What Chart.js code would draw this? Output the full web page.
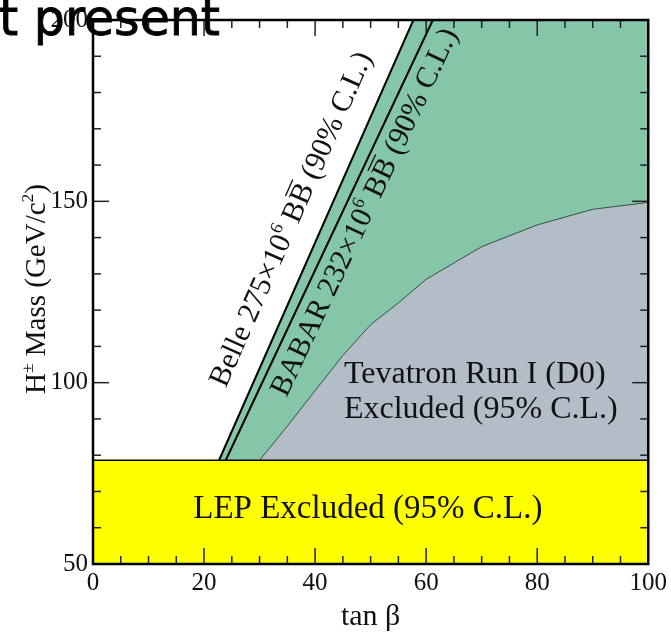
<!DOCTYPE html>
<html><head><meta charset="utf-8">
<script src="https://cdn.jsdelivr.net/npm/chart.js@4.4.1/dist/chart.umd.min.js"></script>
<style>html,body{margin:0;padding:0;background:#fff;overflow:hidden}</style>
</head><body>
<canvas id="c" width="671" height="635"></canvas>
<script>
// ---- data ----
const tanBetaTicks = [0, 20, 40, 60, 80, 100];
const massTicks = [50, 100, 150, 200];
const lepTanBeta = [0, 100];
const lepMass = [78.6, 78.6];
const tevatronTanBeta = [30, 35, 40, 45, 50, 55, 60, 70, 80, 90, 100];
const tevatronMass = [78.6, 88, 97.8, 107.5, 116, 122, 128.5, 137.5, 143.5, 147.8, 149.7];
const belleTanBeta = [22.7, 57.7];
const belleMass = [78.6, 200];
const babarTanBeta = [23.9, 61.2];
const babarMass = [78.6, 200];

// ---- text annotations ----
const titleText = 't present';
const lepLabel = 'LEP Excluded (95% C.L.)';
const tevLabel = ['Tevatron Run I (D0)', 'Excluded (95% C.L.)'];
const belleLabel = [{t:'Belle 275×10'},{t:'6',sup:true},{t:' B'},{t:'B',bar:true},{t:' (90% C.L.)'}];
const babarLabel = [{t:'BABAR 232×10'},{t:'6',sup:true},{t:' B'},{t:'B',bar:true},{t:' (90% C.L.)'}];
const yTitle = [{t:'H'},{t:'±',sup:true},{t:' Mass (GeV/c'},{t:'2',sup:true},{t:')'}];
const xTitle = 'tan β';

const pts = (xs, ys) => xs.map((v, i) => ({x: v, y: ys[i]}));
const X_MIN = 0, X_MAX = 100, Y_MIN = 50, Y_MAX = 200;

const SERIF = '"Liberation Serif", "Times New Roman", serif';
const GREEN = '#85c6a8';
const GRAY = '#b3bdc8';
const YELLOW = '#ffff00';

function drawRich(ctx, segs, size, cx, cy, angle) {
  ctx.save();
  ctx.translate(cx, cy);
  ctx.rotate(angle);
  let total = 0;
  const items = segs.map(s => {
    const f = s.sup ? size * 0.6 : size;
    ctx.font = f + 'px ' + SERIF;
    const w = ctx.measureText(s.t).width;
    total += w;
    return Object.assign({}, s, {f, w});
  });
  let xx = -total / 2;
  ctx.textBaseline = 'alphabetic';
  ctx.textAlign = 'left';
  ctx.fillStyle = '#111';
  for (const it of items) {
    ctx.font = it.f + 'px ' + SERIF;
    const yy = it.sup ? -size * 0.42 : 0;
    ctx.fillText(it.t, xx, yy);
    if (it.bar) ctx.fillRect(xx + 1, -size * 0.66 - 4, it.w - 2, 1.4);
    xx += it.w;
  }
  ctx.restore();
}

const decor = {
  id: 'decor',
  afterDatasetsDraw(chart) {
    const {ctx, chartArea: a, scales: {x, y}} = chart;
    ctx.save();
    // region labels
    ctx.fillStyle = '#111';
    ctx.textAlign = 'center';
    ctx.textBaseline = 'alphabetic';
    ctx.font = '33px ' + SERIF;
    ctx.fillText(lepLabel, x.getPixelForValue(49.5), y.getPixelForValue(62.8));
    ctx.font = '32px ' + SERIF;
    ctx.textAlign = 'left';
    ctx.fillText(tevLabel[0], x.getPixelForValue(45.2), y.getPixelForValue(99.8));
    ctx.fillText(tevLabel[1], x.getPixelForValue(45.2), y.getPixelForValue(90.3));
    // rotated labels along lines
    const ang = (xs, ys) => Math.atan2(y.getPixelForValue(ys[1]) - y.getPixelForValue(ys[0]),
                                       x.getPixelForValue(xs[1]) - x.getPixelForValue(xs[0]));
    drawRich(ctx, belleLabel, 30, x.getPixelForValue(37.1), y.getPixelForValue(144.1), ang(belleTanBeta, belleMass));
    drawRich(ctx, babarLabel, 30, x.getPixelForValue(50.3), y.getPixelForValue(146.0), ang(babarTanBeta, babarMass));

    // inward ticks on all four sides
    ctx.strokeStyle = '#222';
    ctx.lineWidth = 1.5;
    const seg = (x1, y1, x2, y2) => { ctx.beginPath(); ctx.moveTo(x1, y1); ctx.lineTo(x2, y2); ctx.stroke(); };
    for (let v = X_MIN; v <= X_MAX; v += 5) {
      const L = v % 20 === 0 ? 16 : 8;
      const p = x.getPixelForValue(v);
      seg(p, a.bottom, p, a.bottom - L);
      seg(p, a.top, p, a.top + L);
    }
    for (let v = Y_MIN; v <= Y_MAX; v += 10) {
      const L = v % 50 === 0 ? 16 : 8;
      const p = y.getPixelForValue(v);
      seg(a.left, p, a.left + L, p);
      seg(a.right, p, a.right - L, p);
    }
    ctx.strokeStyle = '#000';
    ctx.lineWidth = 2.5;
    ctx.strokeRect(a.left, a.top, a.width, a.height);
    ctx.restore();
  },
  afterDraw(chart) {
    const {ctx, chartArea: a} = chart;
    // y axis title with superscripts
    drawRich(ctx, yTitle, 29, 45, (a.top + a.bottom) / 2 - 3, -Math.PI / 2);
    // cut-off slide title
    ctx.save();
    ctx.fillStyle = '#000';
    ctx.strokeStyle = '#000';
    ctx.lineWidth = 0.8;
    ctx.font = '49px "DejaVu Sans", sans-serif';
    ctx.textAlign = 'left';
    ctx.textBaseline = 'alphabetic';
    ctx.fillText(titleText, -1, 35);
    ctx.strokeText(titleText, -1, 35);
    ctx.restore();
  }
};

new Chart(document.getElementById('c'), {
  type: 'line',
  data: {
    datasets: [
      { label: 'Belle', data: pts(belleTanBeta, belleMass).concat([{x: X_MAX, y: Y_MAX}]),
        borderColor: '#000', borderWidth: 2, backgroundColor: GREEN, fill: 'start', order: 3 },
      { label: 'Tevatron', data: pts(tevatronTanBeta, tevatronMass),
        borderColor: '#35503f', borderWidth: 1, backgroundColor: GRAY, fill: 'start', order: 2 },
      { label: 'LEP', data: pts(lepTanBeta, lepMass),
        borderColor: '#000', borderWidth: 1.5, backgroundColor: YELLOW, fill: 'start', order: 1 },
      { label: 'BABAR', data: pts(babarTanBeta, babarMass),
        borderColor: '#000', borderWidth: 2, fill: false, order: 0 }
    ]
  },
  options: {
    responsive: false,
    animation: false,
    elements: { point: { radius: 0 }, line: { tension: 0 } },
    layout: { padding: { top: 13, right: 17, left: 0, bottom: 0 } },
    plugins: { legend: { display: false }, tooltip: { enabled: false } },
    scales: {
      x: {
        type: 'linear', min: X_MIN, max: X_MAX,
        afterBuildTicks: s => { s.ticks = tanBetaTicks.map(v => ({value: v})); },
        afterFit: s => { s.height = 71; },
        grid: { display: false, drawTicks: false },
        border: { display: false },
        ticks: { font: { family: SERIF, size: 25 }, color: '#111', padding: 4, maxRotation: 0, autoSkip: false },
        title: { display: true, text: xTitle, font: { family: SERIF, size: 30 }, color: '#111', padding: { top: 0, bottom: 0 } }
      },
      y: {
        type: 'linear', min: Y_MIN, max: Y_MAX,
        afterBuildTicks: s => { s.ticks = massTicks.map(v => ({value: v})); },
        afterFit: s => { s.width = 93; },
        grid: { display: false, drawTicks: false },
        border: { display: false },
        ticks: { font: { family: SERIF, size: 25 }, color: '#111', padding: 5, autoSkip: false },
        title: { display: false }
      }
    }
  },
  plugins: [decor]
});
</script>
</body></html>
